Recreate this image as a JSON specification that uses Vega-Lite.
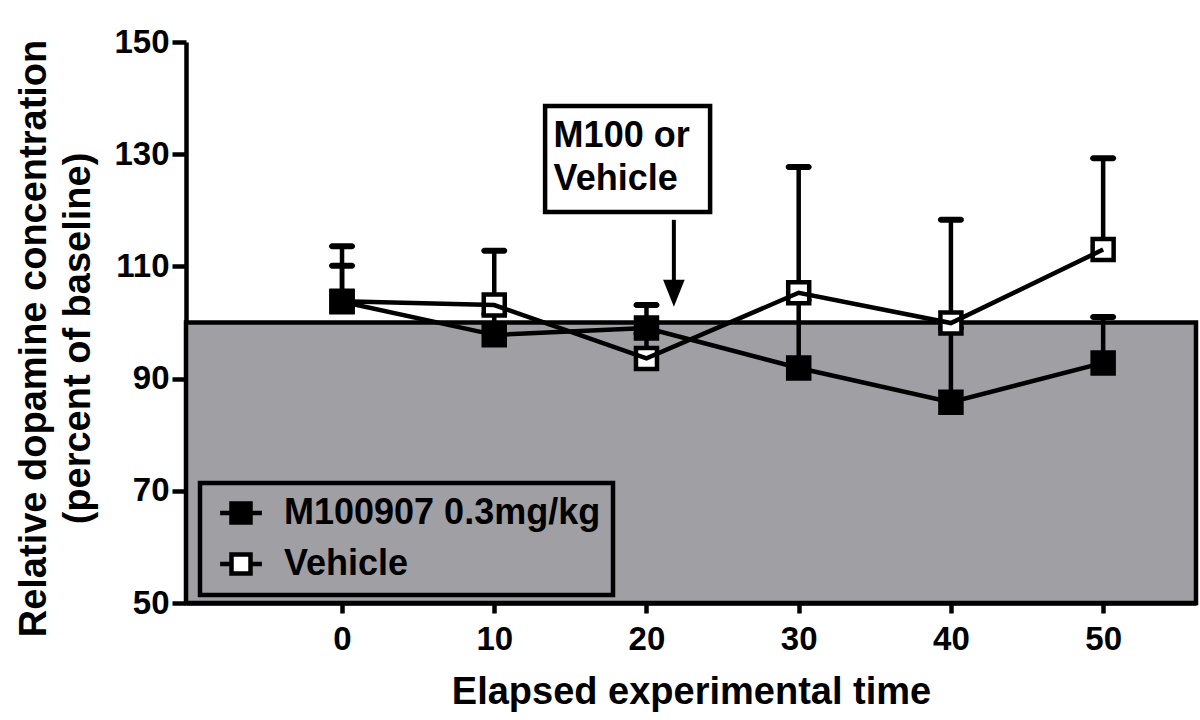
{
  "$schema": "https://vega.github.io/schema/vega-lite/v6.json",
  "width": 1010,
  "height": 561,
  "autosize": "none",
  "padding": {"left": 186, "top": 42, "right": 4, "bottom": 117},
  "background": "white",
  "config": {
    "view": {"stroke": null},
    "font": "Liberation Sans",
    "legend": {"strokeWidth": 4.5},
    "axis": {
      "grid": false,
      "domainColor": "black",
      "domainWidth": 4.5,
      "tickColor": "black",
      "tickWidth": 4.5,
      "tickSize": 10,
      "labelFont": "Liberation Sans",
      "labelFontWeight": "bold",
      "labelFontSize": 33,
      "labelColor": "black",
      "titleFont": "Liberation Sans",
      "titleFontWeight": "bold",
      "titleFontSize": 38,
      "titleColor": "black"
    }
  },
  "datasets": {
    "series": [
      {"time": 0, "group": "M100907 0.3mg/kg", "mean": 103.7, "upper": 110.1},
      {"time": 10, "group": "M100907 0.3mg/kg", "mean": 97.8, "upper": 101.5},
      {"time": 20, "group": "M100907 0.3mg/kg", "mean": 99.0, "upper": 103.1},
      {"time": 30, "group": "M100907 0.3mg/kg", "mean": 91.9, "upper": 104.0},
      {"time": 40, "group": "M100907 0.3mg/kg", "mean": 85.8, "upper": 99.0},
      {"time": 50, "group": "M100907 0.3mg/kg", "mean": 92.8, "upper": 101.0},
      {"time": 0, "group": "Vehicle", "mean": 103.8, "upper": 113.6},
      {"time": 10, "group": "Vehicle", "mean": 103.1, "upper": 112.8},
      {"time": 20, "group": "Vehicle", "mean": 93.6, "upper": 98.0},
      {"time": 30, "group": "Vehicle", "mean": 105.3, "upper": 127.7},
      {"time": 40, "group": "Vehicle", "mean": 99.9, "upper": 118.3},
      {"time": 50, "group": "Vehicle", "mean": 113.0, "upper": 129.3}
    ],
    "baseline": [{"x0": -10.25, "x1": 56.1, "y0": 50, "y1": 100}],
    "note": [{"x0": 13.34, "x1": 24.18, "y0": 119.7, "y1": 138.6, "tx": 13.9, "ty": 131.3, "label": "M100 or\nVehicle", "ax": 21.8, "ay0": 118.3, "ay1": 106.5, "hy": 105.2}]
  },
  "layer": [
    {
      "data": {"name": "baseline"},
      "mark": {"type": "rect", "fill": "#a09fa4", "stroke": "black", "strokeWidth": 4.5},
      "encoding": {
        "x": {"field": "x0", "type": "quantitative", "scale": {"domain": [-10.25, 56.1], "nice": false, "zero": false},
          "axis": {"values": [0, 10, 20, 30, 40, 50], "title": "Elapsed experimental time", "labelPadding": 10, "titlePadding": 17}},
        "x2": {"field": "x1"},
        "y": {"field": "y0", "type": "quantitative", "scale": {"domain": [50, 150], "nice": false, "zero": false},
          "axis": {"values": [50, 70, 90, 110, 130, 150], "title": ["Relative dopamine concentration", "(percent of baseline)"], "tickSize": 14, "labelPadding": 3, "titlePadding": 16, "titleLineHeight": 44, "titleY": 296}},
        "y2": {"field": "y1"}
      }
    },
    {
      "data": {"name": "series"},
      "mark": {"type": "rule", "color": "black", "strokeWidth": 4.5},
      "encoding": {
        "x": {"field": "time", "type": "quantitative"},
        "y": {"field": "mean", "type": "quantitative"},
        "y2": {"field": "upper"}
      }
    },
    {
      "data": {"name": "series"},
      "mark": {"type": "tick", "orient": "horizontal", "color": "black", "size": 26, "thickness": 6, "cornerRadius": 3, "opacity": 1},
      "encoding": {
        "x": {"field": "time", "type": "quantitative"},
        "y": {"field": "upper", "type": "quantitative"}
      }
    },
    {
      "data": {"name": "series"},
      "transform": [{"filter": "datum.group === 'Vehicle'"}],
      "mark": {"type": "point", "shape": "square", "filled": true, "size": 441, "stroke": "black", "strokeWidth": 4.5, "opacity": 1},
      "encoding": {
        "x": {"field": "time", "type": "quantitative"},
        "y": {"field": "mean", "type": "quantitative"},
        "fill": {"field": "group", "type": "nominal",
          "scale": {"domain": ["M100907 0.3mg/kg", "Vehicle"], "range": ["black", "white"]},
          "legend": {"title": null, "orient": "none", "legendX": 14, "legendY": 441,
            "fillColor": "#a09fa4", "strokeColor": "black", "padding": 12,
            "labelFont": "Liberation Sans", "labelFontWeight": "bold", "labelFontSize": 36, "labelColor": "black", "labelLimit": 600,
            "symbolType": "M-2.2,0H-1M1,0H2.2M-1,-1H1V1H-1Z",
            "symbolSize": 361, "symbolStrokeColor": "black", "symbolStrokeWidth": 4.5, "symbolOffset": 11,
            "labelOffset": 25, "rowPadding": 13}}
      }
    },
    {
      "data": {"name": "series"},
      "mark": {"type": "line", "color": "black", "strokeWidth": 4.5},
      "encoding": {
        "x": {"field": "time", "type": "quantitative"},
        "y": {"field": "mean", "type": "quantitative"},
        "detail": {"field": "group"}
      }
    },
    {
      "data": {"name": "series"},
      "transform": [{"filter": "datum.group !== 'Vehicle'"}],
      "mark": {"type": "point", "shape": "square", "filled": true, "size": 441, "stroke": "black", "strokeWidth": 4.5, "opacity": 1},
      "encoding": {
        "x": {"field": "time", "type": "quantitative"},
        "y": {"field": "mean", "type": "quantitative"},
        "fill": {"field": "group", "type": "nominal"}
      }
    },
    {
      "data": {"name": "note"},
      "mark": {"type": "rect", "fill": "white", "stroke": "black", "strokeWidth": 4.5},
      "encoding": {
        "x": {"field": "x0", "type": "quantitative"},
        "x2": {"field": "x1"},
        "y": {"field": "y0", "type": "quantitative"},
        "y2": {"field": "y1"}
      }
    },
    {
      "data": {"name": "note"},
      "mark": {"type": "text", "align": "left", "baseline": "alphabetic", "fontSize": 36, "fontWeight": "bold", "font": "Liberation Sans", "color": "black", "lineBreak": "\n", "lineHeight": 43},
      "encoding": {
        "x": {"field": "tx", "type": "quantitative"},
        "y": {"field": "ty", "type": "quantitative"},
        "text": {"field": "label"}
      }
    },
    {
      "data": {"name": "note"},
      "mark": {"type": "rule", "color": "black", "strokeWidth": 4},
      "encoding": {
        "x": {"field": "ax", "type": "quantitative"},
        "y": {"field": "ay0", "type": "quantitative"},
        "y2": {"field": "ay1"}
      }
    },
    {
      "data": {"name": "note"},
      "mark": {"type": "point", "shape": "M-0.8,-1L0.8,-1L0,1Z", "filled": true, "color": "black", "size": 729, "opacity": 1},
      "encoding": {
        "x": {"field": "ax", "type": "quantitative"},
        "y": {"field": "hy", "type": "quantitative"}
      }
    }
  ]
}
